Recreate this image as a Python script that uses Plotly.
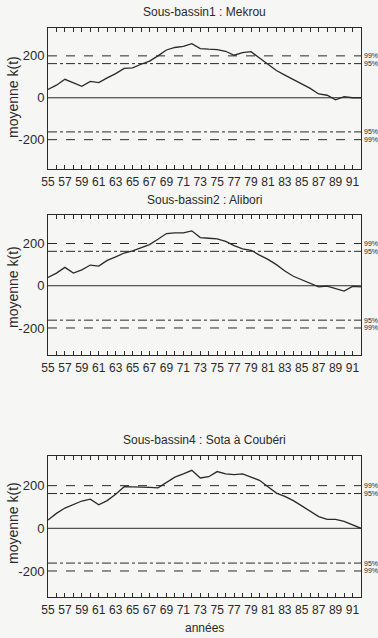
import plotly.graph_objects as go

years = list(range(55, 93))

mekrou = [40, 60, 88, 70, 55, 78, 72, 95, 115, 140, 143, 160, 175, 200, 228, 240, 245, 258, 235, 232,
          230, 222, 203, 215, 220, 190, 158, 130, 108, 88, 68, 45, 18, 12, -10, 5, 0, 0]
alibori = [39, 60, 87, 60, 75, 98, 93, 120, 137, 155, 165, 180, 195, 220, 247, 250, 250, 260, 228, 225,
           222, 210, 190, 175, 168, 145, 125, 100, 70, 45, 28, 12, -5, -2, -15, -25, -3, -5]
sota = [39, 70, 95, 110, 128, 137, 110, 130, 160, 195, 195, 195, 192, 190, 215, 240, 255, 272, 236, 242,
        266, 255, 252, 255, 240, 225, 195, 165, 150, 130, 105, 80, 55, 42, 42, 32, 15, 0]

titles = ["Sous-bassin1 : Mekrou", "Sous-bassin2 : Alibori", "Sous-bassin4 : Sota à Coubéri"]
series = [mekrou, alibori, sota]

thr99 = 200
thr95 = 163

x_ticktext = [str(y) if y % 2 == 1 else "" for y in years]
y_tickvals = [-200, 0, 200]
y_ticktext = ["-200", "0", "200"]

W, H = 378, 638
FONT = "Liberation Sans Narrow, Liberation Sans, Arial, sans-serif"
INK = "#2a2a2a"
BG = "#f6f6f4"

boxes = [(28, 169), (215, 355), (456, 597)]
yranges = [[-340, 333], [-328, 335], [-322, 339]]
xl, xr = 48, 361
title_y = [12, 200, 440]
ytitle_y = [97, 287, 523]

fig = go.Figure()
layout = dict(width=W, height=H, margin=dict(l=0, r=0, t=0, b=0, autoexpand=False),
              paper_bgcolor=BG, plot_bgcolor=BG, showlegend=False)
annotations = []
shapes = []

for i, (vals, ttl) in enumerate(zip(series, titles)):
    n = "" if i == 0 else str(i + 1)
    xa, ya = "x" + n, "y" + n
    fig.add_trace(go.Scatter(x=years, y=vals, mode="lines", xaxis=xa, yaxis=ya,
                             line=dict(color=INK, width=1.3), hoverinfo="skip"))
    top, bot = boxes[i]
    layout["xaxis" + n] = dict(
        domain=[xl / W, xr / W], anchor=ya, range=[55, 92], automargin=False,
        tickvals=years, ticktext=x_ticktext, ticks="inside", ticklen=4, tickwidth=1,
        tickcolor=INK, showline=True, linecolor=INK, linewidth=1, mirror="ticks",
        showgrid=False, zeroline=False, tickangle=0, ticklabelstandoff=2,
        tickfont=dict(family=FONT, size=12, color=INK))
    layout["yaxis" + n] = dict(
        domain=[1 - bot / H, 1 - top / H], anchor=xa, range=yranges[i], automargin=False,
        tickvals=y_tickvals, ticktext=y_ticktext, ticks="", showline=True,
        linecolor=INK, linewidth=1, mirror=True, showgrid=False, zeroline=False,
        tickfont=dict(family=FONT, size=13, color=INK))
    for val, dash in [(0, "solid"), (thr99, "dash"), (-thr99, "dash"), (thr95, "dashdot"), (-thr95, "dashdot")]:
        shapes.append(dict(type="line", xref=xa + " domain", yref=ya, x0=0, x1=1, y0=val, y1=val,
                           line=dict(color=INK, width=1, dash=dash)))
    for val, lab in [(thr99, "99%"), (thr95, "95%"), (-thr95, "95%"), (-thr99, "99%")]:
        annotations.append(dict(xref="paper", yref=ya, x=(xr + 1) / W, y=val, xanchor="left",
                                yanchor="middle", text=lab, showarrow=False,
                                font=dict(family=FONT, size=7, color=INK)))
    annotations.append(dict(xref="paper", yref="paper", x=(xl + xr) / 2 / W, y=1 - title_y[i] / H,
                            text=ttl, showarrow=False, xanchor="center", yanchor="middle",
                            font=dict(family=FONT, size=12, color=INK)))
    annotations.append(dict(xref="paper", yref="paper", x=13 / W, y=1 - ytitle_y[i] / H,
                            text="moyenne k(t)", textangle=-90, showarrow=False,
                            xanchor="center", yanchor="middle",
                            font=dict(family="Liberation Sans, Arial, sans-serif", size=14, color=INK)))

annotations.append(dict(xref="paper", yref="paper", x=(xl + xr) / 2 / W, y=1 - 628 / H,
                        text="années", showarrow=False, xanchor="center", yanchor="middle",
                        font=dict(family=FONT, size=12, color=INK)))

layout["annotations"] = annotations
layout["shapes"] = shapes
fig.update_layout(**layout)
fig.write_html("out.html", config={"displayModeBar": False},
               post_script="document.body.style.margin='0px';document.body.style.overflow='hidden';")
